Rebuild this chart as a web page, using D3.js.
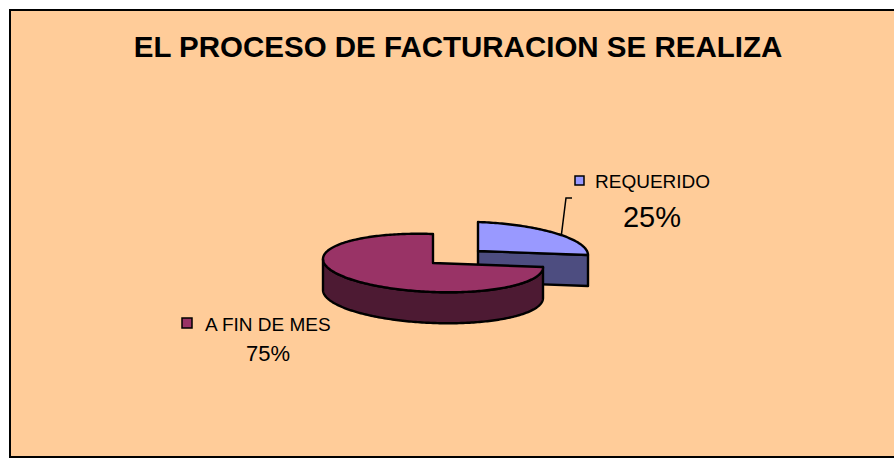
<!DOCTYPE html>
<html>
<head>
<meta charset="utf-8">
<script src="https://cdn.jsdelivr.net/npm/d3@7"></script>
<style>
  body { margin: 0; background: #fff; }
  text { font-family: Arial, "Liberation Sans", sans-serif; fill: #000; }
</style>
</head>
<body>
<div id="chart"></div>
<script>
// data
var categories = ["REQUERIDO", "A FIN DE MES"];
var values = [25, 75];
var pctLabels = ["25%", "75%"];
var chartTitle = "EL PROCESO DE FACTURACION SE REALIZA";

var topColors = ["#9999ff", "#993366"],
    sideColors = ["#4d4d80", "#4d1a33"];

var width = 894, height = 458;
// 3d pie geometry: ellipse centre, radii, a small shear for the tilt, wall depth
var cx = 433, cy = 263, rx = 110, ry = 29, shear = 4, depth = 31;
var explode = [{dx: 45, dy: -12}, {dx: 0, dy: 0}];

var svg = d3.select("#chart").append("svg")
  .attr("width", width)
  .attr("height", height);

svg.append("rect")
  .attr("x", 10).attr("y", 10)
  .attr("width", width + 20).attr("height", 447)
  .attr("fill", "#ffcc99")
  .attr("stroke", "#000")
  .attr("stroke-width", 2);

svg.append("text")
  .attr("x", 458).attr("y", 57)
  .attr("text-anchor", "middle")
  .style("font-size", "29.5px")
  .style("font-weight", "bold")
  .text(chartTitle);

var pie = d3.pie().sort(null).startAngle(0).endAngle(2 * Math.PI);
var arcs = pie(values);

// point on the top rim at pie angle a (0 = 12 o'clock, clockwise)
function rim(a, off, drop) {
  return [cx + off.dx + rx * Math.sin(a),
          cy + off.dy - ry * Math.cos(a) + shear * Math.sin(a) + (drop || 0)];
}
function sample(a0, a1) {
  var n = Math.max(2, Math.ceil(Math.abs(a1 - a0) / 0.02));
  return d3.range(n + 1).map(i => a0 + (a1 - a0) * i / n);
}
var line = d3.line();

var g = svg.append("g")
  .attr("stroke", "#000")
  .attr("stroke-width", 2.4)
  .attr("stroke-linejoin", "round");

// back slice first (REQUERIDO), then the front one
arcs.forEach(function(d, i) {
  var off = explode[i];
  var ctr = [cx + off.dx, cy + off.dy];

  // radial face at the 3 o'clock edge, only seen when the slice ends there
  if (Math.abs(d.endAngle - Math.PI / 2) < 1e-6) {
    var p = rim(d.endAngle, off);
    g.append("path")
      .attr("fill", sideColors[i])
      .attr("d", line([ctr, p, [p[0], p[1] + depth], [ctr[0], ctr[1] + depth]]) + "Z");
  }

  // outer wall: the part of the rim that faces the viewer
  var w0 = Math.max(d.startAngle, Math.PI / 2),
      w1 = Math.min(d.endAngle, 3 * Math.PI / 2);
  if (w1 - w0 > 1e-3) {
    var topPts = sample(w0, w1).map(a => rim(a, off)),
        botPts = sample(w1, w0).map(a => rim(a, off, depth));
    g.append("path")
      .attr("fill", sideColors[i])
      .attr("d", line(topPts.concat(botPts)) + "Z");
  }

  // top face
  var face = [ctr].concat(sample(d.startAngle, d.endAngle).map(a => rim(a, off)));
  g.append("path")
    .attr("fill", topColors[i])
    .attr("d", line(face) + "Z");
});

// leader line for REQUERIDO
var lp = rim(0.86, explode[0]);
svg.append("path")
  .attr("fill", "none")
  .attr("stroke", "#000")
  .attr("stroke-width", 1.5)
  .attr("d", line([lp, [566, 198], [572, 198]]));

// data labels with legend key
var labelPos = [
  {kx: 575, ky: 176, ks: 9, tx: 595, ty: 188, px: 652, py: 227, psize: 29},
  {kx: 182, ky: 318, ks: 10, tx: 205, ty: 330.5, px: 268, py: 361, psize: 22}
];
labelPos.forEach(function(l, i) {
  svg.append("rect")
    .attr("x", l.kx).attr("y", l.ky)
    .attr("width", l.ks).attr("height", l.ks)
    .attr("fill", topColors[i])
    .attr("stroke", "#000")
    .attr("stroke-width", 1.5);
  svg.append("text")
    .attr("x", l.tx).attr("y", l.ty)
    .style("font-size", "19px")
    .text(categories[i]);
  svg.append("text")
    .attr("x", l.px).attr("y", l.py)
    .attr("text-anchor", "middle")
    .style("font-size", l.psize + "px")
    .text(pctLabels[i]);
});
</script>
</body>
</html>
